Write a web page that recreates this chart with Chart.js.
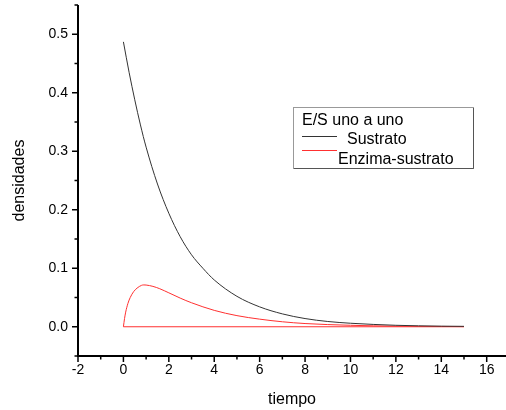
<!DOCTYPE html>
<html>
<head>
<meta charset="utf-8">
<script src="https://cdn.jsdelivr.net/npm/chart.js@4.4.0/dist/chart.umd.min.js"></script>
<style>
  html, body { margin: 0; padding: 0; background: #fff; }
  #wrap { position: relative; width: 506px; height: 410px; }
</style>
</head>
<body>
<div id="wrap"><canvas id="myChart" width="506" height="410"></canvas></div>
<script>
// DATA
const sustratoTiempo = [0, 0.25, 0.5, 0.75, 1, 1.5, 2, 2.5, 3, 3.5, 4, 5, 6, 7, 8, 9, 10, 11, 12, 13, 14, 15];
const sustrato = [0.487, 0.435, 0.388, 0.345, 0.307, 0.244, 0.194, 0.154, 0.123, 0.100, 0.080, 0.052, 0.034, 0.022, 0.014, 0.009, 0.006, 0.004, 0.0025, 0.0016, 0.001, 0.0007];
const enzimaTiempo = [0, 0.05, 0.1, 0.2, 0.3, 0.45, 0.6, 0.8, 0.9, 1, 1.3, 1.6, 2, 2.5, 3, 4, 5, 6, 7, 8, 9, 10, 11, 12, 13, 14, 15];
const enzimaSustrato = [0, 0.014, 0.025, 0.040, 0.050, 0.060, 0.066, 0.0708, 0.0715, 0.0713, 0.069, 0.065, 0.058, 0.049, 0.041, 0.028, 0.019, 0.013, 0.0085, 0.0055, 0.0037, 0.0025, 0.0016, 0.001, 0.0007, 0.0005, 0.0003];
const baseTiempo = [0, 15];
const baseValores = [0, 0];
const xTicks = [-2, 0, 2, 4, 6, 8, 10, 12, 14, 16];
const yTicks = [0, 0.1, 0.2, 0.3, 0.4, 0.5];
const legendTitle = 'E/S uno a uno';

const FONT = "'Liberation Sans', Arial, sans-serif";

function toPoints(xs, ys) {
  return xs.map((x, i) => ({ x: x, y: ys[i] }));
}

// AXES + MINOR TICKS + LEGEND BOX
const axesPlugin = {
  id: 'axesPlugin',
  afterDraw(chart) {
    const c = chart.ctx;
    const xs = chart.scales.x;
    const ys = chart.scales.y;
    const area = chart.chartArea;
    c.save();
    c.strokeStyle = '#000';
    c.lineWidth = 2;
    c.beginPath();
    c.moveTo(area.left, area.top);
    c.lineTo(area.left, area.bottom);
    c.lineTo(area.right, area.bottom);
    c.stroke();
    c.lineWidth = 1.5;
    // x ticks
    for (let v = -2; v <= 16; v++) {
      const px = xs.getPixelForValue(v);
      const len = v % 2 === 0 ? 6 : 3.5;
      c.beginPath();
      c.moveTo(px, area.bottom);
      c.lineTo(px, area.bottom + len);
      c.stroke();
    }
    // y ticks
    for (let k = -1; k <= 11; k++) {
      const v = k * 0.05;
      const py = ys.getPixelForValue(v);
      const len = k % 2 === 0 ? 6 : 3.5;
      c.beginPath();
      c.moveTo(area.left, py);
      c.lineTo(area.left - len, py);
      c.stroke();
    }
    // legend
    const lx = 293, ly = 107, lw = 180, lh = 61;
    c.lineWidth = 1;
    c.strokeStyle = '#999';
    c.strokeRect(lx + 0.5, ly + 0.5, lw, lh);
    c.strokeStyle = '#555';
    c.beginPath();
    c.moveTo(lx + lw + 0.5, ly + 1); c.lineTo(lx + lw + 0.5, ly + lh + 0.5); c.lineTo(lx + 1, ly + lh + 0.5);
    c.stroke();
    c.fillStyle = '#000';
    c.font = '16px ' + FONT;
    c.textBaseline = 'alphabetic';
    c.fillText(legendTitle, 302, 125);
    const ds = chart.data.datasets;
    c.strokeStyle = ds[0].borderColor;
    c.beginPath(); c.moveTo(302, 136.5); c.lineTo(337, 136.5); c.stroke();
    c.fillText(ds[0].label, 347, 143.5);
    c.strokeStyle = ds[1].borderColor;
    c.beginPath(); c.moveTo(302, 150.5); c.lineTo(337, 150.5); c.stroke();
    c.fillText(ds[1].label, 338, 163.5);
    c.restore();
  }
};

const ctx = document.getElementById('myChart').getContext('2d');
const myChart = new Chart(ctx, {
  type: 'line',
  data: {
    datasets: [{
      label: 'Sustrato',
      data: toPoints(sustratoTiempo, sustrato),
      borderColor: '#333',
      borderWidth: 1,
      pointRadius: 0,
      cubicInterpolationMode: 'monotone'
    }, {
      label: 'Enzima-sustrato',
      data: toPoints(enzimaTiempo, enzimaSustrato),
      borderColor: '#ff3030',
      borderWidth: 1,
      pointRadius: 0,
      cubicInterpolationMode: 'monotone'
    }, {
      label: 'base',
      data: toPoints(baseTiempo, baseValores),
      borderColor: '#ff3030',
      borderWidth: 1,
      pointRadius: 0
    }]
  },
  options: {
    responsive: false,
    animation: false,
    layout: { padding: { top: 5, right: 0, left: 0, bottom: 0 } },
    plugins: { legend: { display: false }, tooltip: { enabled: false } },
    scales: {
      x: {
        type: 'linear',
        min: -2,
        max: 16.85,
        afterBuildTicks: (s) => { s.ticks = xTicks.map(v => ({ value: v })); },
        afterFit: (s) => { s.height = 54; s.paddingLeft = 0; s.paddingRight = 0; },
        grid: { display: false, drawTicks: false },
        border: { display: false },
        ticks: { color: '#000', padding: 6, maxRotation: 0, font: { family: FONT, size: 14 }, callback: (v) => String(v) },
        title: { display: true, text: 'tiempo', color: '#000', font: { family: FONT, size: 16 }, padding: { top: 0, bottom: 1 } }
      },
      y: {
        min: -0.05,
        max: 0.55,
        afterBuildTicks: (s) => { s.ticks = yTicks.map(v => ({ value: v })); },
        afterFit: (s) => { s.width = 78; s.paddingTop = 0; s.paddingBottom = 0; },
        grid: { display: false, drawTicks: false },
        border: { display: false },
        ticks: { color: '#000', padding: 10, font: { family: FONT, size: 14 }, callback: (v) => v.toFixed(1) },
        title: { display: true, text: 'densidades', color: '#000', font: { family: FONT, size: 16 }, padding: { top: 10, bottom: 0 } }
      }
    }
  },
  plugins: [axesPlugin]
});
</script>
</body>
</html>
